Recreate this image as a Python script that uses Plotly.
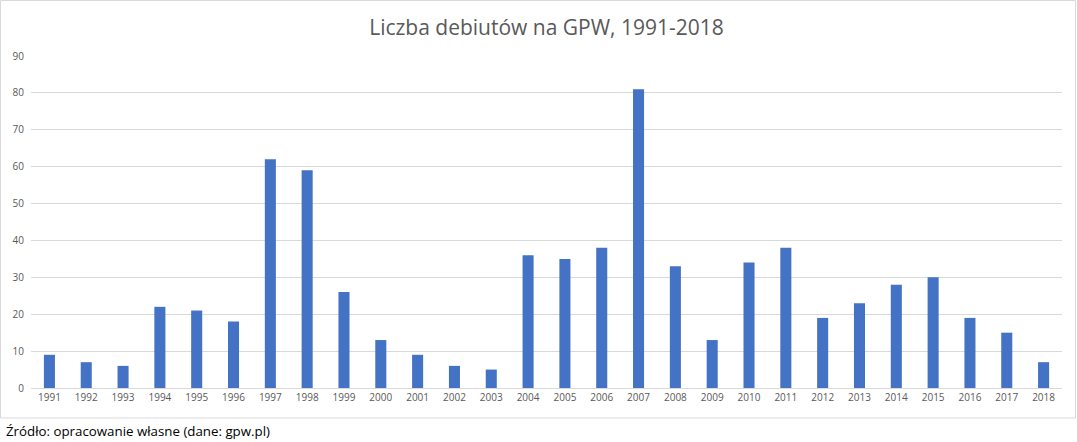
import plotly.graph_objects as go

years = [str(y) for y in range(1991, 2019)]
debuts = [9, 7, 6, 22, 21, 18, 62, 59, 26, 13, 9, 6, 5, 36, 35, 38, 81, 33, 13, 34, 38, 19, 23, 28, 30, 19, 15, 7]
y_ticks = [0, 10, 20, 30, 40, 50, 60, 70, 80, 90]

title_text = "Liczba debiutów na GPW, 1991-2018"
source_text = "Źródło: opracowanie własne (dane: gpw.pl)"

W, H = 1077, 442
L, R, T, B = 31, 15, 56, 54
pw = W - L - R
ph = H - T - B

def px(x):
    return (x - L) / pw

def py(y):
    return (H - B - y) / ph

fig = go.Figure(go.Bar(x=years, y=debuts, marker=dict(color="#4472C4", line=dict(width=0))))

fig.update_layout(
    width=W, height=H,
    margin=dict(l=L, r=R, t=T, b=B),
    paper_bgcolor="white", plot_bgcolor="white",
    bargap=0.7,
    showlegend=False,
    font=dict(family="Open Sans", color="#595959"),
    title=dict(text=title_text, x=0.5, xref="paper", xanchor="center",
               y=1 - 28 / H, yanchor="middle", yref="container",
               font=dict(size=21, color="#595959", family="Open Sans")),
    xaxis=dict(type="category", showgrid=False, showline=True, linecolor="#D9D9D9", linewidth=1,
               ticks="", tickfont=dict(size=10, color="#595959"), fixedrange=True),
    yaxis=dict(range=[0, 90], tickvals=y_ticks, showgrid=True, gridcolor="#D9D9D9", gridwidth=1,
               zeroline=False, showline=False, ticks="", tickfont=dict(size=10, color="#595959"),
               ticklabelstandoff=6),
    shapes=[dict(type="rect", xref="paper", yref="paper",
                 x0=px(0.5), x1=px(W - 1.5), y0=py(418), y1=py(0.5),
                 line=dict(color="#D9D9D9", width=1), fillcolor="rgba(0,0,0,0)", layer="below")],
    annotations=[dict(text=source_text, xref="paper", yref="paper", x=px(4), y=py(431),
                      xanchor="left", yanchor="middle", showarrow=False,
                      font=dict(size=13.3, color="#000000", family="Open Sans"))],
)

fig.write_html("out.html", config={"displayModeBar": False},
               post_script="document.body.style.margin='0';document.body.style.padding='0';")
